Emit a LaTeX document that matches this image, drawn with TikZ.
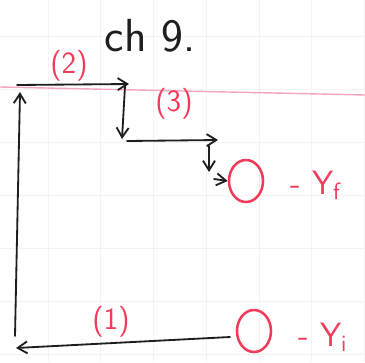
\documentclass[tikz,border=0pt]{standalone}
\usetikzlibrary{arrows.meta,shapes.geometric}
\definecolor{ink}{RGB}{30,30,30}
\definecolor{rose}{RGB}{240,60,90}
\definecolor{margin}{RGB}{245,165,185}
\definecolor{paper}{RGB}{243,243,243}
\tikzset{
  >={Straight Barb[length=2.4mm,width=3mm]},
  leg/.style={->,line width=1.3pt,draw=ink,line cap=round},
  tag/.style={font=\sffamily\fontsize{22}{24}\selectfont,text=rose},
  state/.style={ellipse,draw=rose,line width=1.8pt,minimum width=0.85cm,
    minimum height=1.05cm,inner sep=0pt},
  ylab/.style={font=\sffamily\fontsize{24}{26}\selectfont,text=rose,anchor=west},
}
\begin{document}
\begin{tikzpicture}[x=0.025cm,y=-0.025cm]
        \useasboundingbox (0,0) rectangle (365,362);
        % faint grid of the paper
        \foreach \x in {48,100.7,...,365} \draw[paper,line width=0.4pt] (\x,0) -- (\x,362);
        \foreach \y in {36,89,...,362} \draw[paper,line width=0.4pt] (0,\y) -- (365,\y);
        \draw[margin,line width=1pt] (0,87) -- (365,95);
        \node[font=\sffamily\fontsize{33}{36}\selectfont,text=ink] (title) at (150,36) {ch 9.};
        % states
        \node[state] (yf) at (246,181) {};
        \node[state] (yi) at (254,331) {};
        \node[ylab] (lf) at (286,185) {- Y\textsubscript{f}};
        \node[ylab] (li) at (294,337) {- Y\textsubscript{i}};
        % path corners
        \coordinate (a) at (230,337);
        \coordinate (b) at (16,348);
        \coordinate (c0) at (15,336);
        \coordinate (c) at (20,92);
        \coordinate (d0) at (17,85);
        \coordinate (d) at (129,84);
        \coordinate (e0) at (125,86);
        \coordinate (e) at (122,139);
        \coordinate (f0) at (127,141);
        \coordinate (f) at (218,140);
        \coordinate (g0) at (209,146);
        \coordinate (g) at (209,172);
        \coordinate (h0) at (214,179);
        \draw[leg] (a) -- (b);
        \draw[leg] (c0) -- (c);
        \draw[leg] (d0) -- (d);
        \draw[leg] (e0) -- (e);
        \draw[leg] (f0) -- (f);
        \draw[leg] (g0) -- (g);
        \draw[leg] (h0) -- (yf.west);
        \node[tag] (t1) at (111,322) {(1)};
        \node[tag] (t2) at (69,66) {(2)};
        \node[tag] (t3) at (174,104) {(3)};
      \end{tikzpicture}
\end{document}
